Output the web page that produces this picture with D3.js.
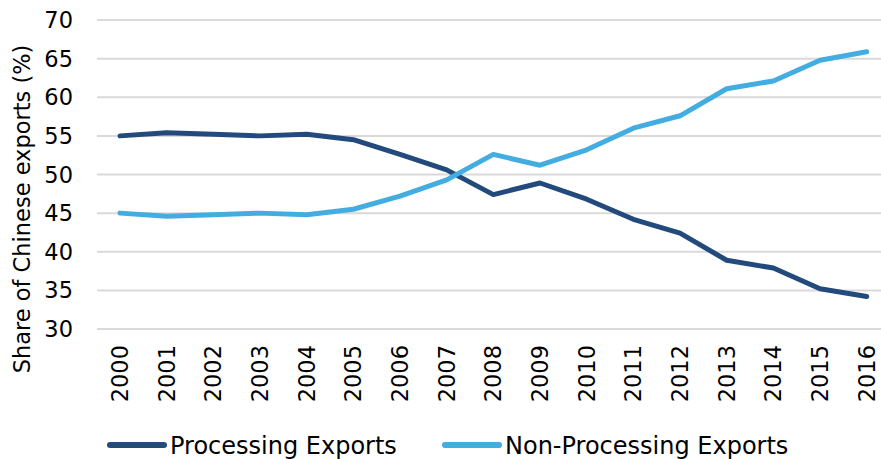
<!DOCTYPE html>
<html>
<head>
<meta charset="utf-8">
<script src="https://cdn.jsdelivr.net/npm/d3@7"></script>
<style>
  html, body { margin: 0; padding: 0; background: #fff; }
  svg { display: block; font-family: "DejaVu Sans", Verdana, sans-serif; }
</style>
</head>
<body>
<svg id="chart" width="881" height="459"></svg>
<script>
// === Datos ===
const years = ['2000','2001','2002','2003','2004','2005','2006','2007','2008',
  '2009','2010','2011','2012','2013','2014','2015','2016'];
const processing = [55.0, 55.4, 55.2, 55.0, 55.2, 54.5, 52.6, 50.6, 47.4,
  48.9, 46.8, 44.2, 42.4, 38.9, 37.9, 35.2, 34.2];
const nonProcessing = [45.0, 44.6, 44.8, 45.0, 44.8, 45.5, 47.2, 49.3, 52.6,
  51.2, 53.2, 56.0, 57.6, 61.1, 62.1, 64.8, 65.9];
const yTicks = [30, 35, 40, 45, 50, 55, 60, 65, 70];
const seriesNames = ['Processing Exports', 'Non-Processing Exports'];

const colors = ['#234a7c', '#43ade2'];

// === Escalas ===
const svg = d3.select('#chart');
const x = d3.scalePoint().domain(years).range([120, 866.7]);
const y = d3.scaleLinear().domain([30, 70]).range([329, 20]);

// grid
svg.append('g').selectAll('line').data(yTicks).join('line')
  .attr('x1', 97).attr('x2', 881)
  .attr('y1', d => y(d)).attr('y2', d => y(d))
  .attr('stroke', '#d9d9d9').attr('stroke-width', 2);

// eje y
svg.append('g').selectAll('text').data(yTicks).join('text')
  .attr('x', 73).attr('y', d => y(d)).attr('dy', '0.36em')
  .attr('text-anchor', 'end').attr('font-size', 22.5).attr('fill', '#000')
  .text(d => d);

svg.append('text')
  .attr('transform', 'translate(30,209) rotate(-90)')
  .attr('text-anchor', 'middle').attr('font-size', 22.5).attr('fill', '#000')
  .text('Share of Chinese exports (%)');

// eje x
svg.append('g').selectAll('text').data(years).join('text')
  .attr('transform', d => `translate(${x(d)},345) rotate(-90)`)
  .attr('dy', '0.36em')
  .attr('text-anchor', 'end').attr('font-size', 22.5).attr('fill', '#000')
  .text(d => d);

// lineas
const line = d3.line().x((d, i) => x(years[i])).y(d => y(d));
[processing, nonProcessing].forEach((s, k) => {
  svg.append('path').datum(s)
    .attr('d', line)
    .attr('fill', 'none')
    .attr('stroke', colors[k])
    .attr('stroke-width', 5)
    .attr('stroke-linecap', 'round')
    .attr('stroke-linejoin', 'round');
});

// leyenda
const legendX = [110, 445];
seriesNames.forEach((name, k) => {
  const g = svg.append('g').attr('transform', `translate(${legendX[k]},445)`);
  g.append('line').attr('x1', 0).attr('x2', 54)
    .attr('stroke', colors[k]).attr('stroke-width', 6).attr('stroke-linecap', 'round');
  g.append('text').attr('x', 60).attr('dy', '0.36em')
    .attr('font-size', 24).attr('fill', '#000').text(name);
});
</script>
</body>
</html>
